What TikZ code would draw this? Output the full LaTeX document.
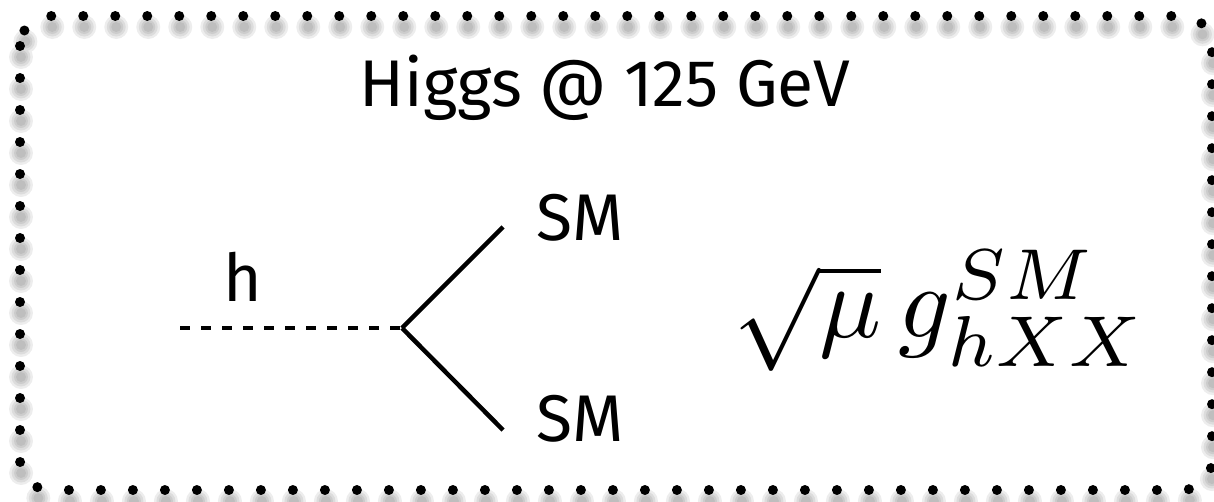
\documentclass[tikz,border=0pt]{standalone}
\usepackage{fontspec}
\newfontfamily\comicfont{Fira Sans}
\begin{document}
\begin{tikzpicture}[x=1pt,y=-1pt,
  dotframe/.style={line width=10pt, dash pattern=on 0pt off 32pt, line cap=round, rounded corners=30pt},
  shadowframe/.style={line width=#1, dash pattern=on 0pt off 32pt, line cap=round, rounded corners=30pt, black, opacity=0.07},
  lbl/.style={font=\comicfont\fontsize{66}{72}\selectfont, inner sep=0pt, anchor=base},
  prop/.style={line width=4.5pt},
  scalar/.style={line width=4.5pt, dash pattern=on 10pt off 11pt}]
\useasboundingbox (0,0) rectangle (1214,501);
% shadow
\foreach \w in {24,19,14,10}{
  \draw[shadowframe=\w pt] (21,27) rectangle (1213,501);
}
\draw[dotframe] (20,16) rectangle (1212,490);
% title
\node[lbl] (title) at (605,106) {Higgs @ 125 GeV};
% diagram
\coordinate (hs) at (180,328);
\coordinate (v) at (402,328);
\coordinate (u) at (503,227);
\coordinate (d) at (503,430);
\draw[scalar] (hs) -- (v);
\draw[prop] (v) -- (u);
\draw[prop] (v) -- (d);
\node[lbl] (hl) at (243,301) {h};
\node[lbl] (sm1) at (580,240) {SM};
\node[lbl] (sm2) at (580,441) {SM};
\node[inner sep=0pt, anchor=base west] (coup) at (733,337) {\scalebox{10.3}{$\sqrt{\mu}\,g^{SM}_{hXX}$}};
\end{tikzpicture}
\end{document}
